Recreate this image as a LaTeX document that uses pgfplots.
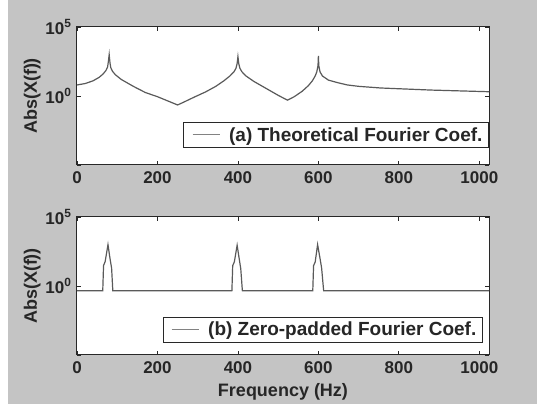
\documentclass[border=0pt]{standalone}
\usepackage{pgfplots}
\pgfplotsset{compat=1.18}
\usepackage{fontspec}
\setmainfont{Liberation Sans}

\definecolor{panel}{RGB}{196,196,196}
\definecolor{frame}{RGB}{40,40,40}
\definecolor{curve}{RGB}{90,90,90}
\definecolor{keyline}{RGB}{130,130,130}

\pgfplotsset{
  spectrum/.style={
    scale only axis,
    width=412pt, height=138pt,
    xmin=0, xmax=1024,
    ymin=1e-5, ymax=1e5,
    xtick={0,200,400,600,800,1000},
    ytick={1e-5,1,1e5},
    yticklabels={,10\textsuperscript{0},10\textsuperscript{5}},
    yminorticks=false,
    tick align=inside,
    major tick length=4pt,
    axis line style={frame, line width=1pt},
    every tick/.style={frame, line width=0.8pt},
    axis background/.style={fill=white},
    tick label style={font=\fontsize{17}{17}\selectfont\bfseries, text=black!85},
    xticklabel style={yshift=-3pt},
    yticklabel style={xshift=-2pt},
    label style={font=\fontsize{18}{18}\selectfont\bfseries, text=black!85},
    ylabel={Abs(X(f))},
    ylabel style={yshift=-2pt},
    legend image code/.code={%
      \draw[#1, keyline, line width=1pt] (0pt,0pt) -- (27pt,0pt);
      \path (-4pt,0pt) (34pt,0pt);},
    legend style={draw=frame, line width=1pt, fill=white,
      font=\fontsize{19}{19}\selectfont\bfseries, text=black!85,
      inner xsep=4pt, inner ysep=3pt, cells={anchor=west}},
  },
}

\begin{document}
\begin{tikzpicture}[x=1pt,y=1pt]
\path[use as bounding box] (0,0) rectangle (541,404);
\fill[white] (0,0) rectangle (541,404);
\fill[panel] (8,0) rectangle (537,404);

% (a) theoretical Fourier coefficients
\begin{axis}[ymode=log, spectrum, at={(77pt,239pt)}, anchor=south west,
  /pgf/number format/assume math mode=true,
  /pgf/number format/1000 sep={},
  legend style={at={(1,0.123)}, anchor=south east}]
\addplot[curve, line width=1.2pt] coordinates {
(0,6.31) (20,7.94) (40,12.6) (55,22.4) (65,39.8) (72,70.8) (76,126) (78,316)
(80,1000) (82,251) (84,112) (88,63.1) (95,35.5) (110,15.8) (140,5.01)
(170,1.78) (200,0.891) (225,0.447) (250,0.224) (265,0.355) (290,0.794)
(320,2.0) (345,5.01) (365,12.6) (380,28.2) (390,56.2) (395,100) (398,224)
(400,708) (402,224) (405,100) (410,56.2) (420,28.2) (440,11.2) (470,3.55)
(500,1.12) (523,0.501) (540,0.891) (560,2.24) (575,5.62) (585,12.6)
(592,28.2) (596,56.2) (599,158) (600,794) (601,158) (604,56.2) (610,28.2)
(625,14.1) (650,8.91) (672,6.31) (700,5.01) (755,3.80) (880,2.69) (1024,2.04)
};
\addlegendentry{(a) Theoretical Fourier Coef.}
\end{axis}

% (b) zero-padded Fourier coefficients
\begin{axis}[ymode=log, spectrum, at={(77pt,49pt)}, anchor=south west,
  /pgf/number format/assume math mode=true,
  /pgf/number format/1000 sep={},
  xlabel={Frequency (Hz)},
  xlabel style={yshift=-3pt},
  legend style={at={(0.985,0.087)}, anchor=south east}]
\addplot[curve, line width=1.2pt] coordinates {
(0,0.46) (64,0.46) (66,30) (70,60) (77,1000) (82,100) (86,20) (89,0.46)
(385,0.46) (387,30) (391,55) (398,900) (403,100) (407,18) (411,0.46)
(586,0.46) (588,30) (592,55) (598,1000) (604,100) (608,20) (613,0.46)
(1024,0.46)
};
\addlegendentry{(b) Zero-padded Fourier Coef.}
\end{axis}
\end{tikzpicture}
\end{document}
